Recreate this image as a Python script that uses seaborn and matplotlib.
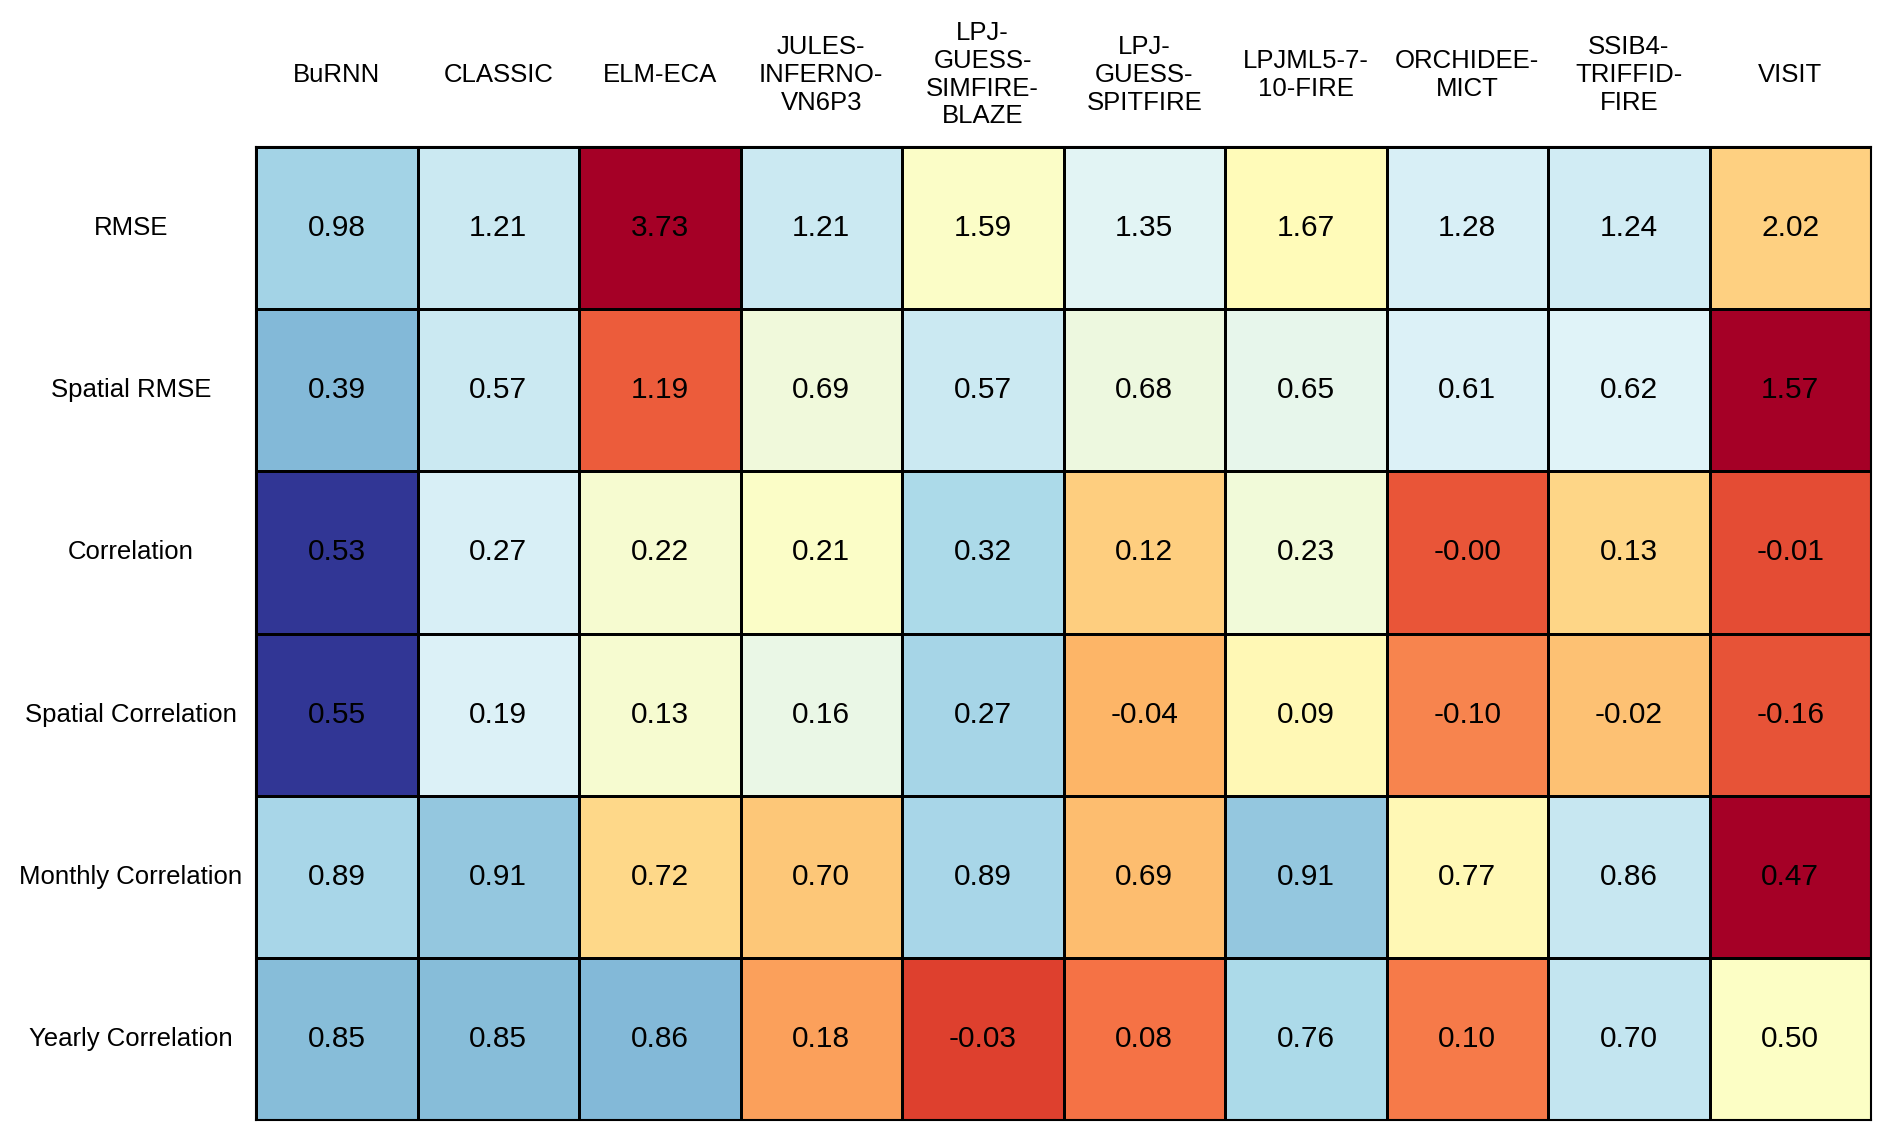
import matplotlib
matplotlib.use("Agg")
import matplotlib.pyplot as plt
import seaborn as sns
import pandas as pd
import numpy as np

models = ["BuRNN", "CLASSIC", "ELM-ECA", "JULES-\nINFERNO-\nVN6P3",
          "LPJ-\nGUESS-\nSIMFIRE-\nBLAZE", "LPJ-\nGUESS-\nSPITFIRE",
          "LPJML5-7-\n10-FIRE", "ORCHIDEE-\nMICT", "SSIB4-\nTRIFFID-\nFIRE", "VISIT"]
metrics = ["RMSE", "Spatial RMSE", "Correlation", "Spatial Correlation",
           "Monthly Correlation", "Yearly Correlation"]

rmse = [0.98, 1.21, 3.73, 1.21, 1.59, 1.35, 1.67, 1.28, 1.24, 2.02]
spatial_rmse = [0.39, 0.57, 1.19, 0.69, 0.57, 0.68, 0.65, 0.61, 0.62, 1.57]
correlation = [0.53, 0.27, 0.22, 0.21, 0.32, 0.12, 0.23, -0.00, 0.13, -0.01]
spatial_corr = [0.55, 0.19, 0.13, 0.16, 0.27, -0.04, 0.09, -0.10, -0.02, -0.16]
monthly_corr = [0.89, 0.91, 0.72, 0.70, 0.89, 0.69, 0.91, 0.77, 0.86, 0.47]
yearly_corr = [0.85, 0.85, 0.86, 0.18, -0.03, 0.08, 0.76, 0.10, 0.70, 0.50]

# lower is better for these rows
lower_better = ["RMSE", "Spatial RMSE"]

df = pd.DataFrame([rmse, spatial_rmse, correlation, spatial_corr, monthly_corr, yearly_corr],
                  index=metrics, columns=models)

# row-wise z-scores, flipped for error metrics so blue = better
z = df.sub(df.mean(axis=1), axis=0).div(df.std(axis=1, ddof=0), axis=0)
z.loc[lower_better] = -z.loc[lower_better]

plt.rcParams['font.family'] = ['Liberation Sans', 'DejaVu Sans']

fig = plt.figure(figsize=(18.92, 11.39), dpi=100)
ax = fig.add_axes([256 / 1892, 1 - 1120 / 1139, (1871 - 256) / 1892, (1120 - 147) / 1139])

sns.heatmap(z, annot=df.values, fmt=".2f", cmap="RdYlBu", vmin=-2, vmax=2,
            linewidths=1, linecolor="black", cbar=False, ax=ax,
            annot_kws={"fontsize": 21.5, "color": "black"})

ax.xaxis.tick_top()
ax.set_xticklabels(models, rotation=0, ha="center", va="center", fontsize=18.5)
ax.set_yticklabels(metrics, rotation=0, ha="center", va="center", fontsize=18.5)
ax.tick_params(axis="x", length=0, pad=52)
ax.tick_params(axis="y", length=0, pad=90)
ax.set_xlabel("")
ax.set_ylabel("")

for s in ax.spines.values():
    s.set_visible(True)
    s.set_linewidth(1.5)
    s.set_color("black")

fig.savefig("out.png", dpi=100)
